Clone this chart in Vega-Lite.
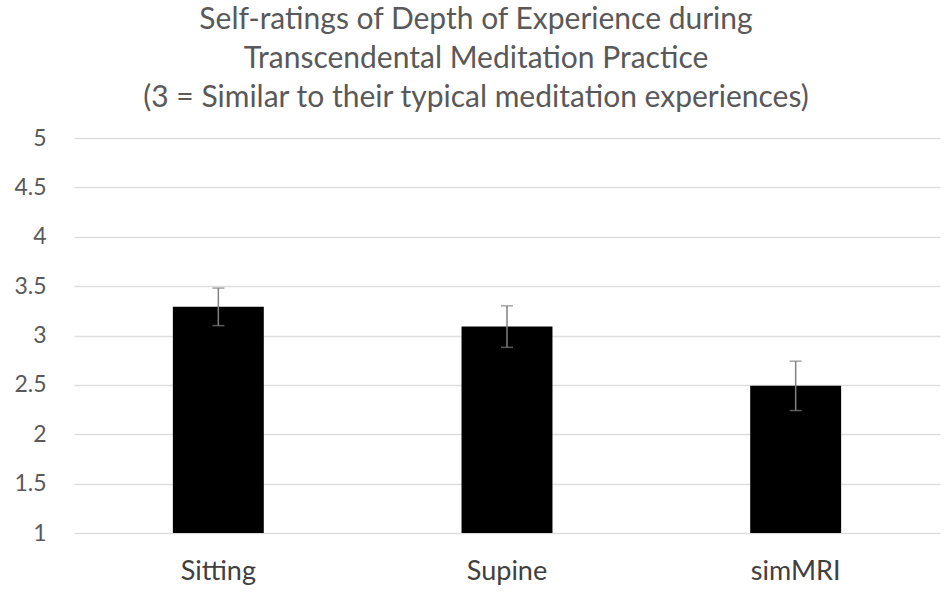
{
  "$schema": "https://vega.github.io/schema/vega-lite/v6.json",
  "autosize": "none",
  "width": 866,
  "height": 395,
  "padding": {"left": 74, "top": 138, "right": 10, "bottom": 60},
  "background": "white",
  "title": {
    "text": [
      "Self-ratings of Depth of Experience during",
      "Transcendental Meditation Practice",
      "(3 = Similar to their typical meditation experiences)"
    ],
    "font": "Lato",
    "fontSize": 30,
    "fontWeight": "normal",
    "color": "#595959",
    "lineHeight": 39,
    "anchor": "middle",
    "dx": -31,
    "offset": 14
  },
  "data": {
    "values": [
      {"condition": "Sitting", "rating": 3.29, "lo": 3.1, "hi": 3.48},
      {"condition": "Supine", "rating": 3.09, "lo": 2.88, "hi": 3.3},
      {"condition": "simMRI", "rating": 2.49, "lo": 2.24, "hi": 2.74}
    ]
  },
  "encoding": {
    "x": {
      "field": "condition",
      "type": "nominal",
      "sort": null,
      "title": null,
      "scale": {"paddingInner": 0.685, "paddingOuter": 0.3425},
      "axis": {
        "labelAngle": 0,
        "labelFontSize": 27,
        "labelFont": "Lato",
        "labelColor": "#404040",
        "labelPadding": 25,
        "ticks": false,
        "domain": false
      }
    }
  },
  "layer": [
    {
      "mark": {"type": "bar", "color": "#000000"},
      "encoding": {
        "y": {
          "field": "rating",
          "type": "quantitative",
          "title": null,
          "scale": {"domain": [1, 5], "zero": false, "nice": false},
          "axis": {
            "values": [1, 1.5, 2, 2.5, 3, 3.5, 4, 4.5, 5],
            "format": "~g",
            "labelFontSize": 23,
            "labelFont": "Lato",
            "labelColor": "#595959",
            "labelPadding": 28,
            "ticks": false,
            "domain": false,
            "grid": true,
            "gridColor": "#dedede",
            "gridWidth": 1.5
          }
        },
        "y2": {"datum": 1}
      }
    },
    {
      "mark": {
        "type": "errorbar",
        "color": "#808080",
        "thickness": 1.5,
        "ticks": {"size": 12, "color": "#808080", "thickness": 1.5}
      },
      "encoding": {
        "y": {"field": "lo", "type": "quantitative"},
        "y2": {"field": "hi"}
      }
    }
  ],
  "config": {"view": {"stroke": null}}
}
